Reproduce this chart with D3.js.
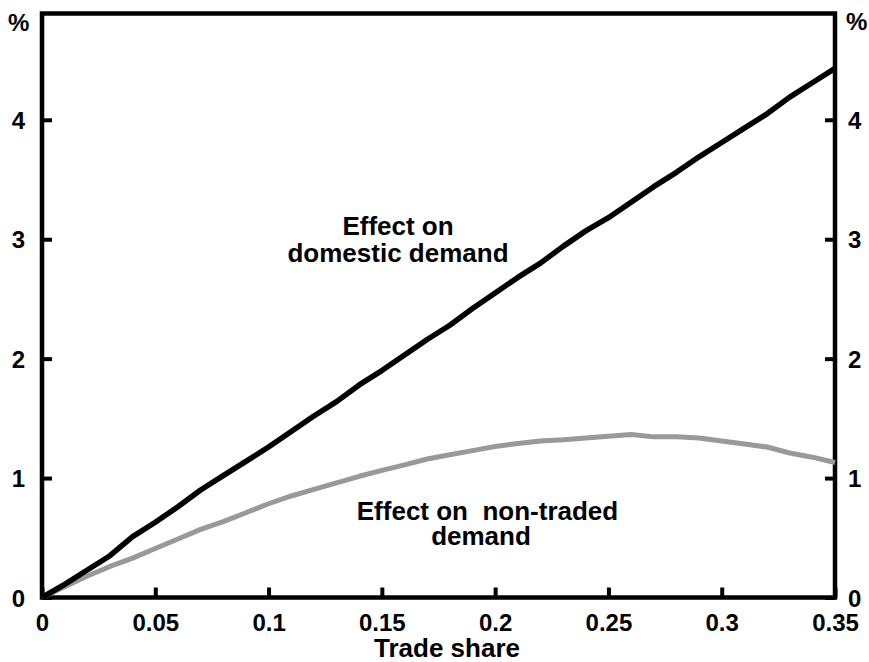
<!DOCTYPE html>
<html><head><meta charset="utf-8">
<script src="https://cdn.jsdelivr.net/npm/d3@7"></script>
<style>
body{margin:0;background:#fff;}
text{font-family:"Liberation Sans",Arial,sans-serif;font-weight:bold;fill:#000;}
</style></head>
<body><svg id="c" width="869" height="662"></svg>
<script>
const tradeShare = [0,0.01,0.02,0.03,0.04,0.05,0.06,0.07,0.08,0.09,0.10,0.11,0.12,0.13,0.14,0.15,0.16,0.17,0.18,0.19,0.20,0.21,0.22,0.23,0.24,0.25,0.26,0.27,0.28,0.29,0.30,0.31,0.32,0.33,0.34,0.35];
const domesticDemand = [0,0.11,0.23,0.35,0.51,0.63,0.76,0.90,1.02,1.14,1.26,1.39,1.52,1.64,1.78,1.90,2.03,2.16,2.28,2.42,2.55,2.68,2.80,2.94,3.07,3.18,3.31,3.44,3.56,3.69,3.81,3.93,4.05,4.19,4.31,4.43];
const nonTradedDemand = [0,0.09,0.18,0.26,0.33,0.41,0.49,0.57,0.635,0.71,0.785,0.85,0.905,0.96,1.015,1.065,1.11,1.16,1.195,1.23,1.265,1.29,1.31,1.32,1.335,1.35,1.365,1.345,1.345,1.335,1.31,1.285,1.26,1.21,1.175,1.13];
const xTicks = [0,0.05,0.1,0.15,0.2,0.25,0.3,0.35];
const xTickLabels = ["0","0.05","0.1","0.15","0.2","0.25","0.3","0.35"];
const yTicks = [0,1,2,3,4];

const svg = d3.select("#c");
const L=42, R=835, T=13.5, B=597.5;
const x = d3.scaleLinear().domain([0,0.35]).range([L,R]);
const y = d3.scaleLinear().domain([0,4.89]).range([B,T]);

// frame
svg.append("rect").attr("x",L).attr("y",T).attr("width",R-L).attr("height",B-T)
  .attr("fill","none").attr("stroke","#000").attr("stroke-width",4.5);

// axes
const gx = svg.append("g").attr("transform",`translate(0,${B})`)
  .call(d3.axisBottom(x).tickValues(xTicks).tickSize(-10).tickPadding(16).tickFormat((d,i)=>xTickLabels[i]));
const gl = svg.append("g").attr("transform",`translate(${L},0)`)
  .call(d3.axisLeft(y).tickValues(yTicks).tickSize(-10).tickPadding(17).tickFormat(d3.format("d")));
const gr = svg.append("g").attr("transform",`translate(${R},0)`)
  .call(d3.axisRight(y).tickValues(yTicks).tickSize(-10).tickPadding(13).tickFormat(d3.format("d")));
[gx,gl,gr].forEach(g=>{
  g.select(".domain").remove();
  g.selectAll(".tick line").attr("stroke","#000").attr("stroke-width",4);
  g.selectAll(".tick text").style("font-size","24px").attr("fill","#000");
});
gx.selectAll(".tick text").attr("dy","0.71em");
gl.selectAll(".tick text").attr("dy","0.36em");
gr.selectAll(".tick text").attr("dy","0.36em");

// % labels
svg.append("text").attr("x",8).attr("y",31).style("font-size","24px").text("%");
svg.append("text").attr("x",846).attr("y",30).style("font-size","24px").text("%");

// lines
const line = vals => d3.line().x((d,i)=>x(tradeShare[i])).y(d=>y(d))(vals);
svg.append("path").attr("d",line(nonTradedDemand)).attr("fill","none")
  .attr("stroke","#999999").attr("stroke-width",5).attr("stroke-linejoin","round");
svg.append("path").attr("d",line(domesticDemand)).attr("fill","none")
  .attr("stroke","#000").attr("stroke-width",5.5).attr("stroke-linejoin","round");

// annotations
const fs = "26px";
svg.append("text").attr("x",398).attr("y",235).attr("text-anchor","middle").style("font-size",fs).text("Effect on");
svg.append("text").attr("x",398).attr("y",261.5).attr("text-anchor","middle").style("font-size",fs).text("domestic demand");
svg.append("text").attr("x",487.5).attr("y",519.5).attr("text-anchor","middle").style("font-size",fs).style("white-space","pre").text("Effect on  non-traded");
svg.append("text").attr("x",481).attr("y",545).attr("text-anchor","middle").style("font-size",fs).text("demand");

// x title
svg.append("text").attr("x",447).attr("y",657).attr("text-anchor","middle").style("font-size","26px").text("Trade share");
</script></body></html>
